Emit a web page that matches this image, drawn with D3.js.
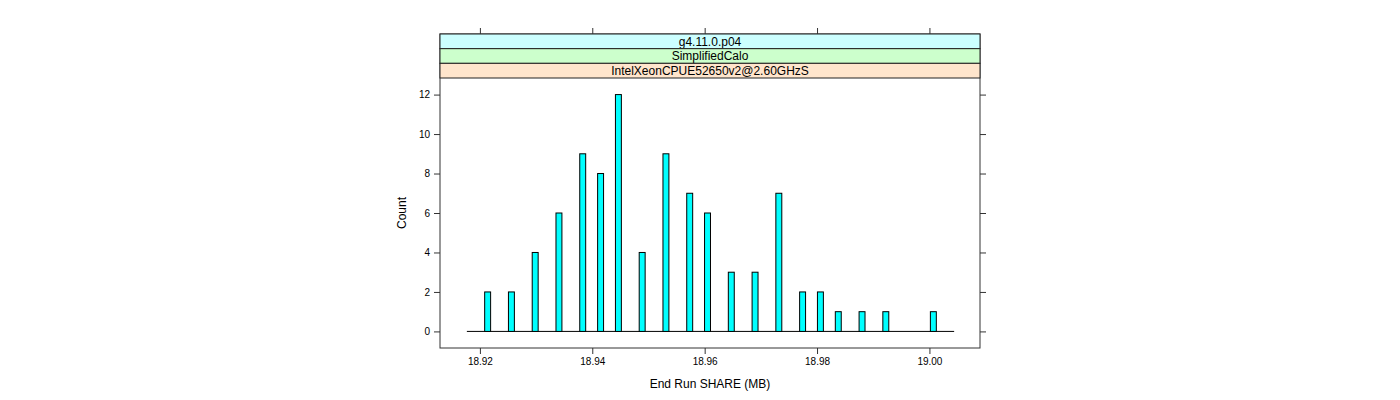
<!DOCTYPE html>
<html>
<head>
<meta charset="utf-8">
<script src="https://cdn.jsdelivr.net/npm/d3@7"></script>
<style>
  html, body { margin: 0; padding: 0; background: #fff; }
  svg { display: block; font-family: "Liberation Sans", Arial, Helvetica, sans-serif; }
</style>
</head>
<body>
<svg id="chart" width="1400" height="400"></svg>
<script>
// ---- data ----
const stripLabels = ["g4.11.0.p04", "SimplifiedCalo", "IntelXeonCPUE52650v2@2.60GHzS"];
const stripColors = ["#CCFFFF", "#CCFFCC", "#FFE5CC"];
const binLefts = [18.92085, 18.92508, 18.92931, 18.93354, 18.93777, 18.94095, 18.94412,
                  18.94835, 18.95258, 18.95681, 18.95998, 18.96421, 18.96844, 18.97267,
                  18.97690, 18.98007, 18.98325, 18.98748, 18.99171, 19.00017];
const counts = [2, 2, 4, 6, 9, 8, 12, 4, 9, 7, 6, 3, 3, 7, 2, 2, 1, 1, 1, 1];
const binWidth = 0.0010575;
const histRange = [18.91768, 19.00440];
const xTicks = [18.92, 18.94, 18.96, 18.98, 19.00];
const yTicks = [0, 2, 4, 6, 8, 10, 12];
const xDomain = [18.9129, 19.0090];
const yDomain = [-0.84, 12.84];
const xTitle = "End Run SHARE (MB)";
const yTitle = "Count";

// ---- layout ----
const panel = { left: 440, right: 980, top: 78, bottom: 348 };
const stripTop = 34;
const stripH = (panel.top - stripTop) / stripLabels.length;

const svg = d3.select("#chart");
const x = d3.scaleLinear().domain(xDomain).range([panel.left, panel.right]);
const y = d3.scaleLinear().domain(yDomain).range([panel.bottom, panel.top]);

// bars
const bars = binLefts.map((b, i) => ({ x0: b, x1: b + binWidth, c: counts[i] }));

// baseline (zero-count bins)
svg.append("line")
  .attr("x1", x(histRange[0])).attr("x2", x(histRange[1]))
  .attr("y1", y(0)).attr("y2", y(0))
  .attr("stroke", "#000").attr("stroke-width", 1);

svg.append("g").selectAll("rect").data(bars).join("rect")
  .attr("x", d => x(d.x0))
  .attr("width", d => x(d.x1) - x(d.x0))
  .attr("y", d => y(d.c))
  .attr("height", d => y(0) - y(d.c))
  .attr("fill", "#00FFFF")
  .attr("stroke", "#000")
  .attr("stroke-width", 1);

// panel border
svg.append("rect")
  .attr("x", panel.left).attr("y", stripTop)
  .attr("width", panel.right - panel.left).attr("height", panel.bottom - stripTop)
  .attr("fill", "none").attr("stroke", "#333").attr("stroke-width", 1);

// strips
const sg = svg.append("g");
stripLabels.forEach((lab, i) => {
  const yy = stripTop + i * stripH;
  sg.append("rect")
    .attr("x", panel.left).attr("y", yy)
    .attr("width", panel.right - panel.left).attr("height", stripH)
    .attr("fill", stripColors[i]).attr("stroke", "#222").attr("stroke-width", 1);
  sg.append("text")
    .attr("x", (panel.left + panel.right) / 2).attr("y", yy + stripH / 2)
    .attr("dy", "0.36em")
    .attr("text-anchor", "middle")
    .attr("font-size", 12)
    .attr("fill", "#000")
    .text(lab);
});

// axes
const tickLen = 6;
const axisStyle = g => {
  g.select(".domain").remove();
  g.selectAll(".tick line").attr("stroke", "#333");
  g.selectAll(".tick text").attr("font-size", 10).attr("fill", "#000")
    .attr("font-family", "'Liberation Sans', Arial, Helvetica, sans-serif");
};
svg.append("g")
  .attr("transform", `translate(0,${panel.bottom})`)
  .call(d3.axisBottom(x).tickValues(xTicks).tickFormat(d3.format(".2f")).tickSizeOuter(0).tickSize(tickLen).tickPadding(4))
  .call(axisStyle);
svg.append("g")
  .attr("transform", `translate(0,${stripTop})`)
  .call(d3.axisTop(x).tickValues(xTicks).tickFormat("").tickSizeOuter(0).tickSize(tickLen))
  .call(axisStyle);
svg.append("g")
  .attr("transform", `translate(${panel.left},0)`)
  .call(d3.axisLeft(y).tickValues(yTicks).tickFormat(d3.format("d")).tickSizeOuter(0).tickSize(tickLen).tickPadding(4))
  .call(axisStyle);
svg.append("g")
  .attr("transform", `translate(${panel.right},0)`)
  .call(d3.axisRight(y).tickValues(yTicks).tickFormat("").tickSizeOuter(0).tickSize(tickLen))
  .call(axisStyle);

// titles
svg.append("text")
  .attr("x", (panel.left + panel.right) / 2).attr("y", 388)
  .attr("text-anchor", "middle").attr("font-size", 12).attr("fill", "#000")
  .text(xTitle);
svg.append("text")
  .attr("transform", `translate(406,${(panel.top + panel.bottom) / 2}) rotate(-90)`)
  .attr("text-anchor", "middle").attr("font-size", 12).attr("fill", "#000")
  .text(yTitle);
</script>
</body>
</html>
